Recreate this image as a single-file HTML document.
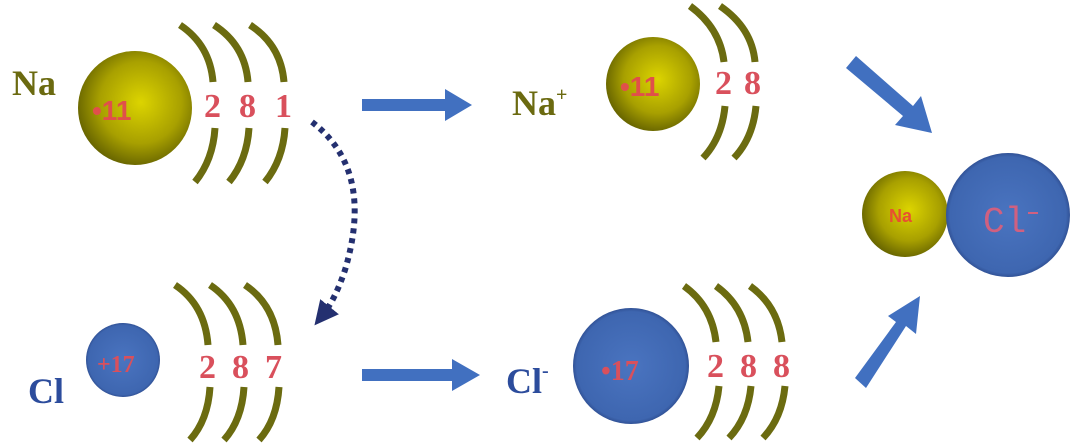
<!DOCTYPE html>
<html><head><meta charset="utf-8"><style>
html,body{margin:0;padding:0;background:#fff;}
svg{display:block}
.num{font-family:"Liberation Serif",serif;font-size:34px;font-weight:bold;fill:#d9505c;}
.lbl{font-family:"Liberation Serif",serif;font-weight:bold;font-size:36px;}
.sh{fill:none;stroke:#6b6b10;stroke-width:7;stroke-linecap:butt}
</style></head><body>
<svg width="1080" height="446" viewBox="0 0 1080 446" xmlns="http://www.w3.org/2000/svg">
<defs>
<radialGradient id="y" cx="55%" cy="45%" r="60%">
<stop offset="0" stop-color="#dcd400"/><stop offset="0.6" stop-color="#a8a000"/><stop offset="1" stop-color="#5e5c00"/>
</radialGradient>
<radialGradient id="b" cx="50%" cy="50%" r="55%">
<stop offset="0" stop-color="#4a74c0"/><stop offset="0.85" stop-color="#3e66b0"/><stop offset="1" stop-color="#1e3470"/>
</radialGradient>
<marker id="ah" markerWidth="4" markerHeight="4" refX="2" refY="2" orient="auto" markerUnits="strokeWidth">
<path d="M0,0 L4,2 L0,4 z" fill="#243070"/></marker>
</defs>

<text x="12" y="95" class="lbl" fill="#6b6a10">Na</text>
<circle cx="135" cy="108" r="57" fill="url(#y)"/>
<text x="92" y="120" font-family="Liberation Sans,sans-serif" font-weight="bold" font-size="28" fill="#e0504a">•11</text>
<g class="sh">
<path d="M180,25 Q210,45 213,82"/><path d="M214,25 Q245,45 248,82"/><path d="M250,25 Q281,45 284,82"/>
<path d="M215,128 Q213,160 195,182"/><path d="M249,128 Q247,160 229,182"/><path d="M285,128 Q283,160 265,182"/>
</g>
<text x="204" y="117" class="num">2</text><text x="239" y="117" class="num">8</text><text x="275" y="117" class="num">1</text>

<path d="M312,122 Q375,170 345,270 Q335,300 322,316" fill="none" stroke="#243070" stroke-width="6" stroke-dasharray="5,5" marker-end="url(#ah)"/>

<text x="28" y="403" class="lbl" fill="#2c4c9c">Cl</text>
<circle cx="123" cy="360" r="37" fill="url(#b)"/>
<text x="97" y="372" font-family="Liberation Serif,serif" font-weight="bold" font-size="24" fill="#d9505c">+17</text>
<g class="sh">
<path d="M175,285 Q205,305 208,345"/><path d="M210,285 Q240,305 243,345"/><path d="M245,285 Q275,305 278,345"/>
<path d="M210,387 Q208,420 190,440"/><path d="M244,387 Q242,420 224,440"/><path d="M279,387 Q277,420 259,440"/>
</g>
<text x="199" y="378" class="num">2</text><text x="232" y="378" class="num">8</text><text x="265" y="378" class="num">7</text>

<path d="M362,99 L445,99 L445,89 L472,105 L445,121 L445,111 L362,111 z" fill="#4170c0"/>
<path d="M362,369 L452,369 L452,359 L480,375 L452,391 L452,381 L362,381 z" fill="#4170c0"/>

<text x="512" y="115" class="lbl" fill="#6b6a10" font-size="34">Na<tspan font-size="20" dy="-14">+</tspan></text>
<circle cx="653" cy="84" r="47" fill="url(#y)"/>
<text x="620" y="96" font-family="Liberation Sans,sans-serif" font-weight="bold" font-size="28" fill="#e0504a">•11</text>
<g class="sh">
<path d="M690,6 Q720,28 724,62"/><path d="M720,6 Q752,28 755,62"/>
<path d="M725,106 Q722,138 703,158"/><path d="M756,106 Q753,138 734,158"/>
</g>
<text x="715" y="94" class="num">2</text><text x="744" y="94" class="num">8</text>

<text x="506" y="393" class="lbl" fill="#2c4c9c" font-size="34">Cl<tspan font-size="20" dy="-16">-</tspan></text>
<circle cx="631" cy="366" r="58" fill="url(#b)"/>
<text x="601" y="380" font-family="Liberation Serif,serif" font-weight="bold" font-size="28" fill="#d9505c">•17</text>
<g class="sh">
<path d="M684,286 Q712,306 716,342"/><path d="M716,286 Q744,306 748,342"/><path d="M750,286 Q778,306 782,342"/>
<path d="M719,386 Q716,418 697,438"/><path d="M751,386 Q748,418 729,438"/><path d="M785,386 Q782,418 763,438"/>
</g>
<text x="707" y="377" class="num">2</text><text x="740" y="377" class="num">8</text><text x="773" y="377" class="num">8</text>

<g fill="#4170c0">
<polygon points="846,68 856,56 913,106 921,96 932,133 895,125 903,116"/>
<polygon points="855,378 866,388 906,326 916,334 920,296 888,316 896,322"/>
</g>

<circle cx="905" cy="214" r="43" fill="url(#y)"/>
<circle cx="1008" cy="215" r="62" fill="url(#b)"/>
<text x="889" y="222" font-family="Liberation Sans,sans-serif" font-weight="bold" font-size="18" fill="#e85030">Na</text>
<text x="983" y="232" font-family="Liberation Mono,monospace" font-size="36" fill="#d06080">Cl</text>
<rect x="1028" y="212" width="10" height="2" fill="#d06080"/>
</svg>
</body></html>
